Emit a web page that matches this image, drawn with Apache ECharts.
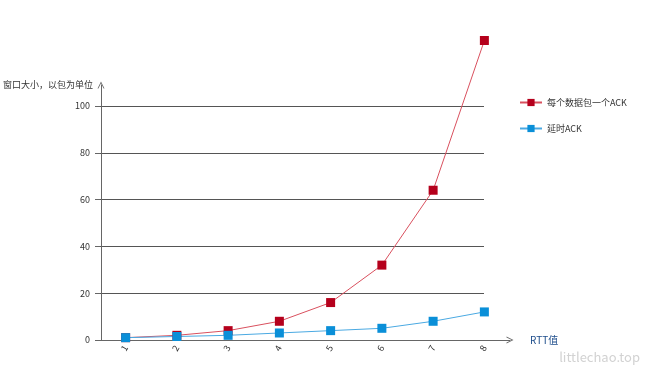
<!DOCTYPE html>
<html>
<head>
<meta charset="utf-8">
<script src="https://cdn.jsdelivr.net/npm/echarts@6/dist/echarts.min.js"></script>
<style>
  html, body { margin: 0; padding: 0; background: #fff; }
  #chart { width: 650px; height: 378px; }
</style>
</head>
<body>
<div id="chart"></div>
<script>
const rtt = ['1', '2', '3', '4', '5', '6', '7', '8']
const perPacketAck = [1, 2, 4, 8, 16, 32, 64, 128]
const delayedAck = [1, 1.5, 2, 3, 4, 5, 8, 12]
const yTicks = { min: 0, max: 100, interval: 20 }

const font = "'Noto Sans CJK SC', 'Noto Sans', sans-serif"
// open arrow head (chevron), points up before ECharts rotates it along the axis
const chevron = 'path://M0,10 L5,0 L10,10 L8.7,10 L5,2.6 L1.3,10 Z'

const chart = echarts.init(document.getElementById('chart'), null, { renderer: 'canvas' })

const option = {
  animation: false,
  textStyle: { fontFamily: font },
  title: {
    text: 'littlechao.top',
    right: 5,
    bottom: 9,
    textStyle: { color: '#d2d2d2', fontSize: 13, fontWeight: 'normal', fontFamily: font }
  },
  legend: {
    orient: 'vertical',
    left: 514,
    top: 93,
    itemGap: 17,
    itemWidth: 22,
    itemHeight: 9,
    textStyle: { fontSize: 9, color: '#333' },
    data: ['每个数据包一个ACK', '延时ACK']
  },
  grid: [
    // main plot: categories, labels, series
    { left: 100, right: 140, top: 106, bottom: 38 },
    // horizontal grid lines stop at the last category
    { left: 100, right: 166, top: 106, bottom: 38 },
    // y axis line with arrow reaching above 100
    { left: 100, right: 140, top: 85, bottom: 38 }
  ],
  xAxis: [
    {
      gridIndex: 0,
      type: 'category',
      data: rtt,
      boundaryGap: true,
      name: 'RTT值',
      nameLocation: 'end',
      nameGap: 20,
      nameTextStyle: { color: '#1f4e8c', fontSize: 10, padding: [10, 0, 0, 0] },
      axisLine: {
        lineStyle: { color: '#666', width: 1 },
        symbol: ['none', chevron],
        symbolSize: [9, 7]
      },
      axisTick: { alignWithLabel: true, length: 4, lineStyle: { color: '#666' } },
      axisLabel: { rotate: 60, fontSize: 9, color: '#333', margin: 6 }
    },
    { gridIndex: 1, type: 'value', show: false, min: 0, max: 1 },
    { gridIndex: 2, type: 'value', show: false, min: 0, max: 1 }
  ],
  yAxis: [
    {
      gridIndex: 0,
      type: 'value',
      min: yTicks.min,
      max: yTicks.max,
      interval: yTicks.interval,
      axisLine: { show: false },
      axisTick: { show: true, length: 5, lineStyle: { color: '#666' } },
      axisLabel: { fontSize: 9, color: '#333', margin: 10 },
      splitLine: { show: false }
    },
    {
      gridIndex: 1,
      type: 'value',
      min: yTicks.min,
      max: yTicks.max,
      interval: yTicks.interval,
      axisLine: { show: false },
      axisTick: { show: false },
      axisLabel: { show: false },
      splitLine: { show: true, lineStyle: { color: '#555', width: 1 } }
    },
    {
      gridIndex: 2,
      type: 'value',
      min: 0,
      max: 1,
      name: '窗口大小，以包为单位',
      nameLocation: 'end',
      nameGap: 0,
      nameTextStyle: { align: 'right', verticalAlign: 'middle', fontSize: 9, color: '#333', padding: [4, 8, 0, 0] },
      axisLine: {
        show: true,
        lineStyle: { color: '#666', width: 1 },
        symbol: ['none', chevron],
        symbolSize: [9, 7]
      },
      axisTick: { show: false },
      axisLabel: { show: false },
      splitLine: { show: false }
    }
  ],
  series: [
    {
      name: '每个数据包一个ACK',
      type: 'line',
      xAxisIndex: 0,
      yAxisIndex: 0,
      clip: false,
      data: perPacketAck,
      symbol: 'rect',
      symbolSize: 9,
      itemStyle: { color: '#b5001c' },
      lineStyle: { color: '#d9505e', width: 1 }
    },
    {
      name: '延时ACK',
      type: 'line',
      xAxisIndex: 0,
      yAxisIndex: 0,
      clip: false,
      data: delayedAck,
      symbol: 'rect',
      symbolSize: 9,
      itemStyle: { color: '#0a8fd8' },
      lineStyle: { color: '#4aa9e2', width: 1 }
    }
  ]
}

chart.setOption(option)
</script>
</body>
</html>
